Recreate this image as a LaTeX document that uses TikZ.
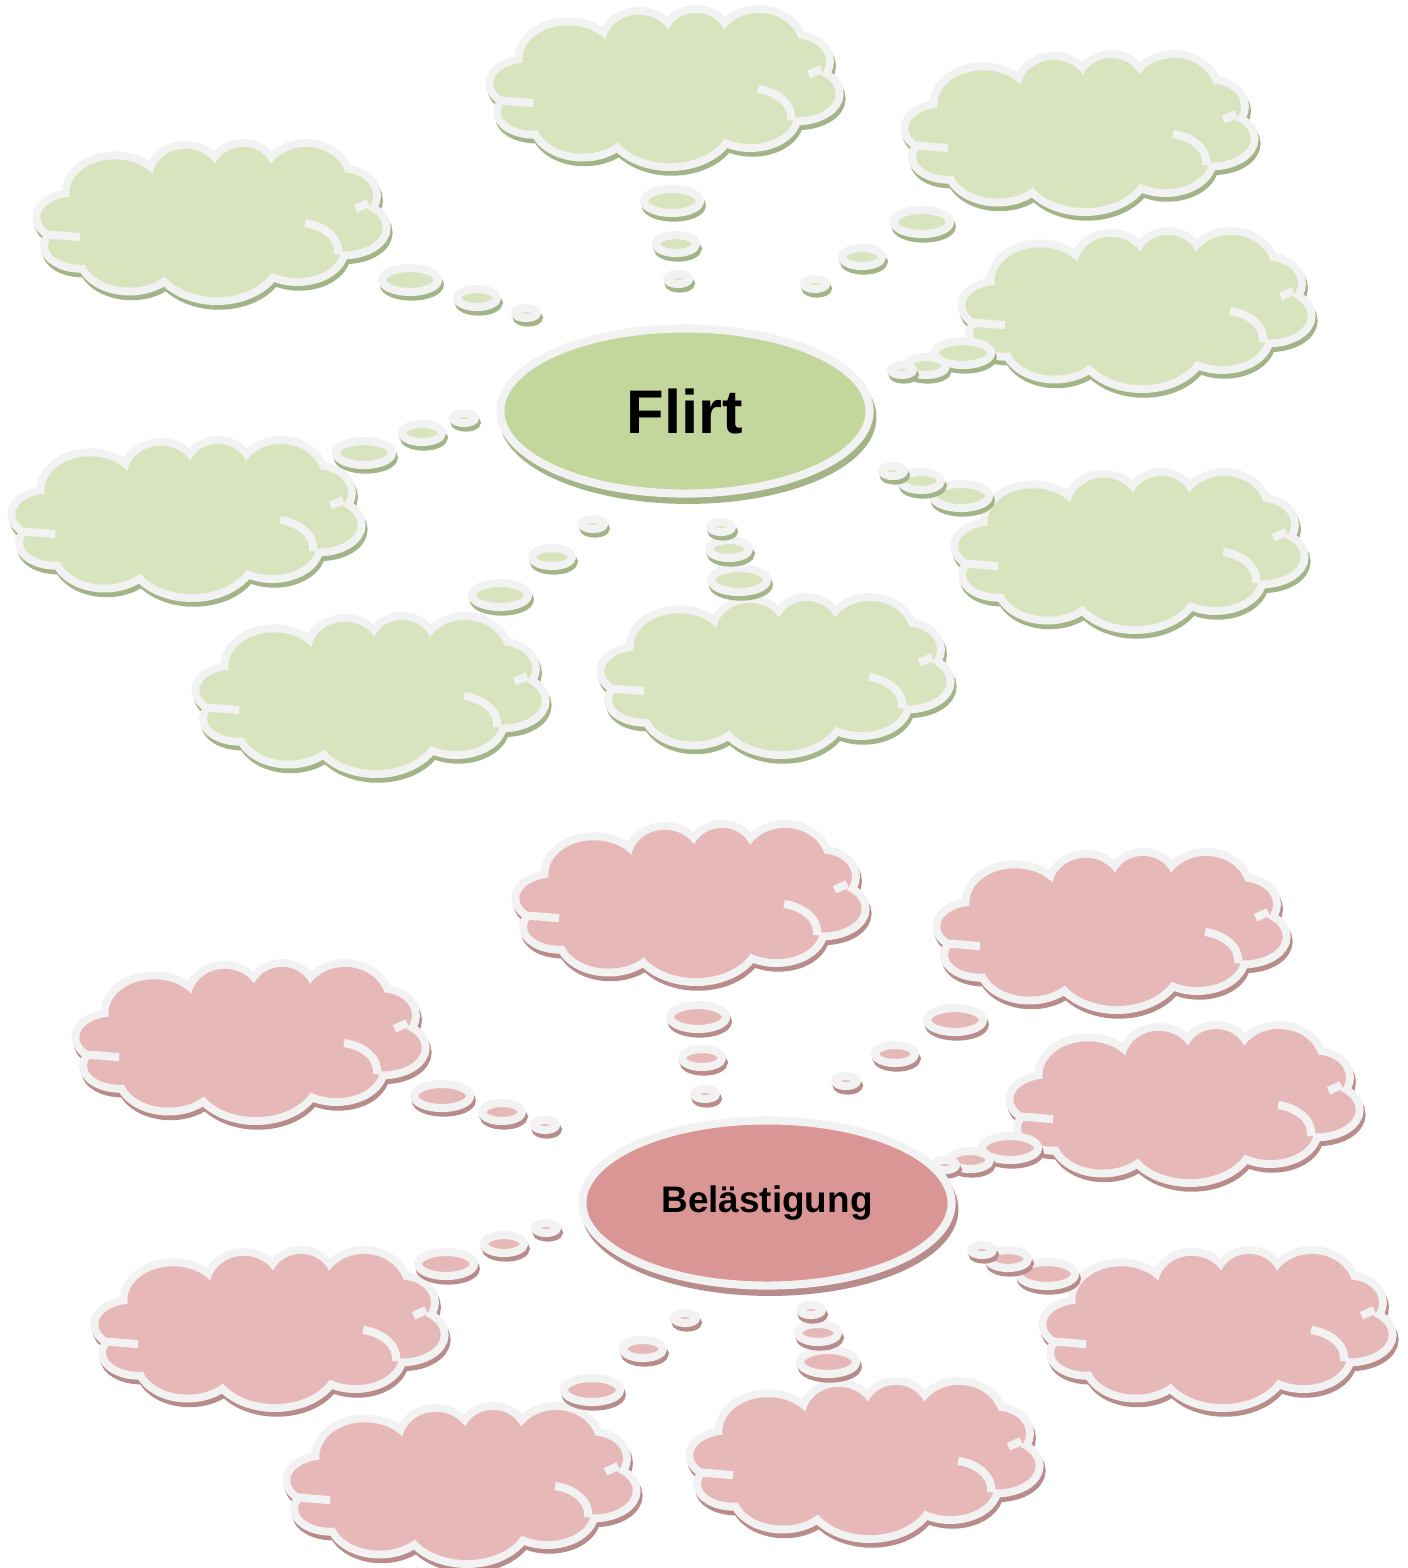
\documentclass[tikz,border=0pt]{standalone}
\usepackage{fontspec}
\setmainfont{Liberation Sans}
\usetikzlibrary{shapes.geometric}

\definecolor{edgewhite}{HTML}{F2F2F2}
\definecolor{greenfill}{HTML}{D7E4BD}
\definecolor{greenhub}{HTML}{C3D69B}
\definecolor{greenshade}{HTML}{A2B488}
\definecolor{redfill}{HTML}{E6B9B8}
\definecolor{redhub}{HTML}{D99694}
\definecolor{redshade}{HTML}{B78C8B}

% puffs of one cloud: centre x / centre y / x radius / y radius (in px)
\newcommand\pufflist{0/0/130/50, -140/-5/37/22, -100/-30/47/36, -27/-45/35/32,
  32/-48/32/31, 97/-42/42/37, 135/-28/31/24, 135/6/41/25, 88/28/45/31,
  5/35/62/44, -85/35/48/34, -135/25/34/20}

\tikzset{
  pics/thought/.style 2 args={code={
    \begin{scope}[xscale=0.97, yscale=0.95]
      \foreach \cx/\cy/\rx/\ry in \pufflist
        \filldraw[#2, line width=4.5pt] (\cx+2,\cy+5) ellipse [x radius=\rx, y radius=\ry];
      \foreach \cx/\cy/\rx/\ry in \pufflist
        \filldraw[edgewhite, line width=4.5pt] (\cx,\cy) ellipse [x radius=\rx, y radius=\ry];
      \foreach \cx/\cy/\rx/\ry in \pufflist
        \fill[#1] (\cx,\cy) ellipse [x radius=\rx, y radius=\ry];
      \draw[edgewhite, line width=2.3pt] (-174,13) .. controls (-158,14) .. (-136,16);
      \draw[edgewhite, line width=2.3pt] (96,1) .. controls (116,4) and (132,17) .. (130,34);
      \draw[edgewhite, line width=2.3pt] (148,-14) -- (161,-20);
    \end{scope}
  }},
  bubble/.style={ellipse, inner sep=0pt, draw=edgewhite, line width=2.3pt},
  gbubble/.style={bubble, fill=greenfill,
    preaction={draw=greenshade, fill=greenshade, transform canvas={shift={(0.5pt,-1.3pt)}}}},
  rbubble/.style={bubble, fill=redfill,
    preaction={draw=redshade, fill=redshade, transform canvas={shift={(0.5pt,-1.3pt)}}}},
  big/.style={minimum width=0.56cm, minimum height=0.24cm},
  mid/.style={minimum width=0.40cm, minimum height=0.18cm},
  small/.style={minimum width=0.22cm, minimum height=0.10cm},
  hub/.style={ellipse, inner sep=0pt, draw=edgewhite, line width=2.3pt,
    minimum width=3.69cm, minimum height=1.65cm},
}

\begin{document}
\begin{tikzpicture}[x=0.01cm, y=-0.01cm]
    \useasboundingbox (0,0) rectangle (1408,1568);

    % Flirt
    \foreach \n/\p in {1/{665,88}, 2/{1080,133}, 3/{212,222}, 4/{1137,310},
                       5/{187,519}, 6/{1130,551}, 7/{371,695}, 8/{776,676}}
        \pic (gc\n) at (\p) {thought={greenfill}{greenshade}};

    \foreach \n/\p/\q/\r in {1/{672,201}/{676,244}/{678,279}, 2/{922,222}/{862,257}/{815,284},
                             3/{410,280}/{477,298}/{526,313}, 4/{963,353}/{926,366}/{902,370},
                             5/{364,453}/{422,433}/{464,418}, 6/{961,496}/{921,481}/{893,471},
                             7/{500,595}/{552,557}/{593,524}, 8/{739,580}/{729,549}/{721,527}}
    {
        \node[gbubble, big] (gbig\n) at (\p) {};
        \node[gbubble, mid] (gmid\n) at (\q) {};
        \node[gbubble, small] (gsmall\n) at (\r) {};
    }

    \node[hub, fill=greenhub, preaction={draw=greenshade, fill=greenshade, transform canvas={shift={(0.8pt,-1.8pt)}}},
          font=\fontsize{17.5}{20}\selectfont\bfseries] (flirt) at (685,411) {Flirt};

    % Belaestigung
    \foreach \n/\p in {1/{691,903}, 2/{1112,931}, 3/{251,1042}, 4/{1185,1104},
                       5/{270,1329}, 6/{1218,1329}, 7/{462,1485}, 8/{865,1460}}
        \pic (rc\n) at (\p) {thought={redfill}{redshade}};

    \foreach \n/\p/\q/\r in {1/{698,1017}/{702,1058}/{705,1094}, 2/{955,1020}/{895,1054}/{846,1081},
                             3/{442,1096}/{502,1112}/{545,1125}, 4/{1010,1148}/{970,1160}/{945,1165},
                             5/{446,1264}/{504,1244}/{546,1228}, 6/{1047,1274}/{1008,1259}/{982,1250},
                             7/{592,1390}/{643,1349}/{685,1318}, 8/{828,1362}/{818,1333}/{811,1310}}
    {
        \node[rbubble, big] (rbig\n) at (\p) {};
        \node[rbubble, mid] (rmid\n) at (\q) {};
        \node[rbubble, small] (rsmall\n) at (\r) {};
    }

    \node[hub, fill=redhub, preaction={draw=redshade, fill=redshade, transform canvas={shift={(0.8pt,-1.8pt)}}},
          font=\fontsize{10.5}{12}\selectfont\bfseries] (harass) at (767,1203) {Belästigung};
\end{tikzpicture}
\end{document}
